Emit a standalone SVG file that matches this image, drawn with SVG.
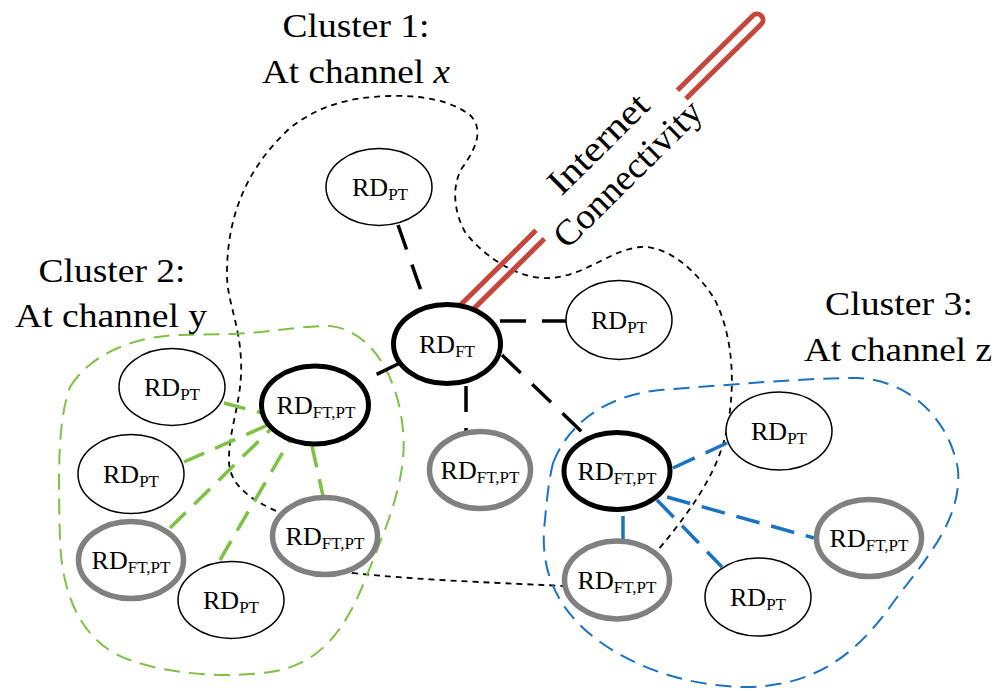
<svg xmlns="http://www.w3.org/2000/svg" width="1000" height="691" viewBox="0 0 1000 691">
<style>
.bg{fill:#fff}
.txt{font-family:"Liberation Serif",serif;fill:#000}
.lbl{font-family:"Liberation Serif",serif;font-size:26px;fill:#000;text-anchor:middle}
.sub{font-size:17px}
.clabel{font-family:"Liberation Serif",serif;font-size:34px;fill:#000;text-anchor:middle}
.pt{fill:#fff;stroke:#000;stroke-width:1.5}
.ftb{fill:#fff;stroke:#000;stroke-width:5}
.ftg{fill:#fff;stroke:#808080;stroke-width:5.5}
.c1{fill:none;stroke:#000;stroke-width:1.8;stroke-dasharray:6 5}
.c2{fill:none;stroke:#7dc242;stroke-width:2;stroke-dasharray:16 9}
.c3{fill:none;stroke:#1a73c2;stroke-width:2;stroke-dasharray:16 9}
.kb{stroke:#000;stroke-width:3.5;stroke-dasharray:26 16;fill:none}
.kg{stroke:#7dc242;stroke-width:3.5;stroke-dasharray:22 12;fill:none}
.kl{stroke:#1a73c2;stroke-width:3.5;stroke-dasharray:24 12;fill:none}
.red{fill:none;stroke:#c4463c;stroke-width:5}
</style>
<rect class="bg" x="0" y="0" width="1000" height="691"/>

<g id="cluster-outlines">
<path id="cluster1-outline" class="c1" d="M 325,536 L 283,514 C 250,500 230,485 229,462 C 228,430 243,400 241,360 C 239,320 226,300 227,270 C 228,210 250,165 290,128 C 320,105 350,97 390,96 C 420,95 450,100 470,115 C 485,130 475,150 462,168 C 452,185 453,210 465,232 C 485,258 520,280 550,278 C 585,276 610,250 640,247 C 670,245 700,275 715,300 C 730,330 735,370 730,410 C 725,460 700,500 658,550 L 617,580 L 565,586 C 480,582 420,580 352,573 Z"/>
<path id="cluster2-outline" class="c2" d="M 70,387 C 90,355 130,338 175,335 L 235,334 C 270,332 300,326 330,326 C 370,330 398,375 403,430 C 408,480 385,530 365,580 C 345,630 320,665 270,672 C 230,678 170,675 130,660 C 85,645 62,600 60,540 C 58,470 58,420 70,387 Z"/>
<path id="cluster3-outline" class="c3" d="M 553,463 C 570,420 610,395 660,390 C 730,385 800,378 857,378 C 910,380 950,420 958,470 C 962,520 925,560 895,600 C 860,650 820,685 750,687 C 690,688 620,665 580,625 C 550,595 540,560 545,520 C 547,495 550,475 553,463 Z"/>
</g>

<g id="connectors">
<line class="kb" x1="398" y1="225" x2="425" y2="302"/>
<line class="kb" x1="500" y1="321" x2="566" y2="321"/>
<line class="kb" x1="466" y1="386" x2="466" y2="431"/>
<line class="kb" x1="502" y1="355" x2="586" y2="436"/>
<line class="kb" x1="400" y1="363" x2="363" y2="381"/>
<line class="kg" x1="224" y1="403" x2="262" y2="413"/>
<line class="kg" x1="184" y1="462" x2="268" y2="425"/>
<line class="kg" x1="170" y1="528" x2="270" y2="430"/>
<line class="kg" x1="220" y1="560" x2="290" y2="440"/>
<line class="kg" x1="312" y1="446" x2="323" y2="496"/>
<line class="kl" x1="673" y1="468" x2="727" y2="443"/>
<line class="kl" x1="667" y1="497" x2="814" y2="538"/>
<line class="kl" x1="657" y1="500" x2="722" y2="567"/>
<line class="kl" x1="623" y1="516" x2="623" y2="539"/>
</g>

<g id="internet-link" transform="translate(467,307) rotate(-44.7)">
<path class="red" d="M -10,-6 L 103,-6 M -10,6 L 103,6"/>
<path class="red" d="M 302,-6 L 408,-6 A 6 6 0 0 1 408,6 L 302,6"/>
<text class="txt" x="208" y="-12" font-size="36" text-anchor="middle" textLength="127" lengthAdjust="spacingAndGlyphs">Internet</text>
<text class="txt" x="208" y="30" font-size="36" text-anchor="middle" textLength="193" lengthAdjust="spacingAndGlyphs">Connectivity</text>
</g>

<g id="labels">
<text class="clabel" x="356" y="37" textLength="147" lengthAdjust="spacingAndGlyphs">Cluster 1:</text>
<text class="clabel" x="356" y="83" textLength="188" lengthAdjust="spacingAndGlyphs">At channel <tspan font-style="italic">x</tspan></text>
<text class="clabel" x="112" y="282" textLength="147" lengthAdjust="spacingAndGlyphs">Cluster 2:</text>
<text class="clabel" x="111" y="327" textLength="192" lengthAdjust="spacingAndGlyphs">At channel y</text>
<text class="clabel" x="899" y="315" textLength="148" lengthAdjust="spacingAndGlyphs">Cluster 3:</text>
<text class="clabel" x="898" y="361" textLength="188" lengthAdjust="spacingAndGlyphs">At channel z</text>
</g>

<g id="node-top-pt"><ellipse class="pt" cx="379" cy="187" rx="53" ry="38.5"/><text class="lbl" x="380" y="196">RD<tspan class="sub" dy="4">PT</tspan></text></g>
<g id="node-ft"><ellipse class="ftb" cx="447" cy="344" rx="53.5" ry="39.5"/><text class="lbl" x="447" y="353">RD<tspan class="sub" dy="4">FT</tspan></text></g>
<g id="node-right-pt"><ellipse class="pt" cx="619" cy="320" rx="53" ry="39.5"/><text class="lbl" x="619" y="329">RD<tspan class="sub" dy="4">PT</tspan></text></g>
<g id="node-center-ftpt"><ellipse class="ftg" cx="480" cy="470" rx="50.5" ry="38.5"/><text class="lbl" x="480" y="479">RD<tspan class="sub" dy="4">FT,PT</tspan></text></g>

<g id="node-c2-head"><ellipse class="ftb" cx="315" cy="405" rx="53.5" ry="39"/><text class="lbl" x="316" y="414">RD<tspan class="sub" dy="4">FT,PT</tspan></text></g>
<g id="node-c2-pt1"><ellipse class="pt" cx="172" cy="387" rx="53" ry="38.5"/><text class="lbl" x="172" y="396">RD<tspan class="sub" dy="4">PT</tspan></text></g>
<g id="node-c2-pt2"><ellipse class="pt" cx="131" cy="474" rx="53" ry="39.5"/><text class="lbl" x="131" y="483">RD<tspan class="sub" dy="4">PT</tspan></text></g>
<g id="node-c2-ftpt1"><ellipse class="ftg" cx="131" cy="560" rx="52.5" ry="38.5"/><text class="lbl" x="131" y="569">RD<tspan class="sub" dy="4">FT,PT</tspan></text></g>
<g id="node-c2-pt3"><ellipse class="pt" cx="231" cy="600" rx="53" ry="38.5"/><text class="lbl" x="231" y="609">RD<tspan class="sub" dy="4">PT</tspan></text></g>
<g id="node-c2-ftpt2"><ellipse class="ftg" cx="325" cy="536" rx="52.5" ry="38.5"/><text class="lbl" x="325" y="545">RD<tspan class="sub" dy="4">FT,PT</tspan></text></g>

<g id="node-c3-head"><ellipse class="ftb" cx="617" cy="471" rx="53" ry="38.5"/><text class="lbl" x="617" y="480">RD<tspan class="sub" dy="4">FT,PT</tspan></text></g>
<g id="node-c3-pt1"><ellipse class="pt" cx="779" cy="431" rx="53" ry="39"/><text class="lbl" x="779" y="440">RD<tspan class="sub" dy="4">PT</tspan></text></g>
<g id="node-c3-ftpt1"><ellipse class="ftg" cx="869" cy="538" rx="52.5" ry="38.5"/><text class="lbl" x="869" y="547">RD<tspan class="sub" dy="4">FT,PT</tspan></text></g>
<g id="node-c3-pt2"><ellipse class="pt" cx="758" cy="597" rx="53" ry="39"/><text class="lbl" x="758" y="606">RD<tspan class="sub" dy="4">PT</tspan></text></g>
<g id="node-c3-ftpt2"><ellipse class="ftg" cx="617" cy="580" rx="52.5" ry="39"/><text class="lbl" x="617" y="589">RD<tspan class="sub" dy="4">FT,PT</tspan></text></g>
</svg>
